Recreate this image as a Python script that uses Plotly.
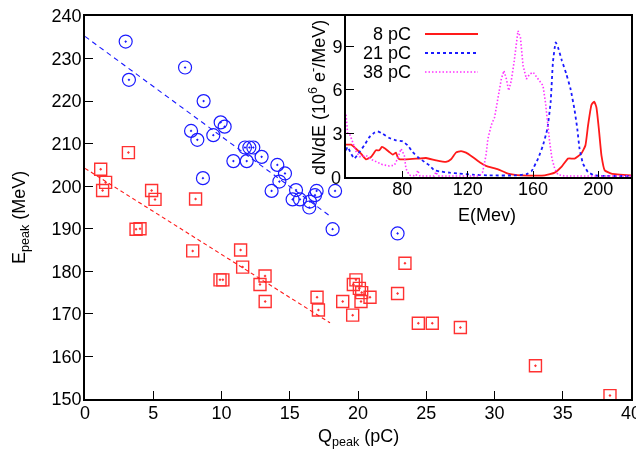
import plotly.graph_objects as go

# ---------------- main scatter data ----------------
blue_q = [2.98, 3.22, 7.33, 8.69, 7.77, 8.23, 9.4, 9.94, 10.23, 8.64, 10.87, 11.85,
          11.72, 12.04, 12.33, 12.94, 14.09, 14.65, 14.24, 13.67, 15.46, 15.21,
          15.75, 16.48, 16.43, 16.97, 16.85, 18.32, 18.14, 22.9]
blue_e = [234.0, 225.0, 227.9, 220.0, 213.0, 210.9, 212.0, 215.0, 214.0, 201.9, 205.9, 205.9,
          209.1, 209.1, 209.1, 206.9, 205.0, 203.0, 201.1, 198.9, 199.1, 196.9,
          196.9, 196.4, 195.0, 198.9, 197.9, 198.9, 189.9, 188.9]

red_q = [1.15, 1.51, 1.29, 3.18, 4.88, 5.13, 8.1, 3.74, 4.03, 7.89, 11.4, 11.55,
         9.89, 10.1, 13.19, 12.82, 13.2, 17.0, 17.1, 18.88, 23.44, 19.85, 19.66,
         20.1, 20.27, 20.88, 20.22, 19.61, 22.9, 24.42, 25.44, 27.5, 33.0, 38.46]
red_e = [204.0, 200.9, 199.0, 207.9, 199.0, 196.9, 197.0, 189.9, 190.0, 184.8, 185.0, 181.0,
         178.0, 178.0, 178.9, 176.9, 172.9, 173.9, 170.9, 172.9, 181.9, 178.0, 176.9,
         176.0, 175.0, 173.9, 172.9, 169.7, 174.8, 167.8, 167.8, 166.8, 157.8, 150.8]

fit_blue_q = [0.0, 17.95]
fit_blue_e = [235.2, 193.0]
fit_red_q = [0.0, 17.95]
fit_red_e = [204.2, 167.9]

# ---------------- inset spectra ----------------
spec8_e = [45.5, 48.6, 51.6, 54.7, 57.7, 60.8, 63.9, 65.9, 67.5, 69.6, 72, 74.1, 76.1, 77.1,
           78.2, 82.2, 88.4, 94.5, 100.6, 106.7, 109.8, 112.8, 115.9, 119, 123, 127.1,
           131.2, 138.6, 144.7, 152.9, 167.2, 173.3, 177.4, 181.4, 185.5, 189.6, 192.1,
           193.7, 195.8, 197.4, 198.8, 200.3, 201.9, 203.9, 208, 220]
spec8_v = [2.23, 2.23, 1.95, 1.61, 1.22, 1.38, 1.84, 1.84, 2.07, 1.95, 1.72, 1.54, 1.68, 1.38,
           1.22, 1.22, 1.26, 1.31, 1.15, 1.04, 1.22, 1.68, 1.79, 1.68, 1.38, 1.04,
           0.77, 0.53, 0.23, 0.11, 0.11, 0.30, 0.69, 1.27, 1.27, 1.62, 2.18,
           3.56, 4.98, 5.2, 4.81, 3.33, 1.49, 0.46, 0.23, 0.11]

spec21_e = [45.5, 46.5, 48.6, 50.6, 53.7, 56.7, 59.8, 62.8, 64.9, 67.9, 72, 76.1, 80.2, 83.3,
            86.3, 89.4, 93.5, 96.5, 99.6, 102.6, 108.8, 114.9, 123, 133.3, 150, 156, 159,
            163.1, 166.1, 168.8, 170.8, 172.2, 173.9, 175.3, 177.7, 180.4, 183.0, 185.5,
            187.1, 188.5, 190.6, 193.7, 197.7, 220]
spec21_v = [1.84, 2.07, 1.61, 1.27, 1.72, 2.18, 2.75, 3.05, 3.15, 2.98, 2.69, 2.53, 2.46, 2.18,
            1.72, 1.38, 1.04, 0.81, 0.46, 0.39, 0.30, 0.23, 0.16, 0.11, 0.11, 0.2, 0.39,
            1.27, 2.18, 3.33, 5.16, 7.91, 9.28, 8.94, 8.02, 7.1, 6.07, 4.58,
            3.33, 1.95, 0.92, 0.34, 0.11, 0.07]

spec38_e = [45.5, 46.5, 48.0, 49.6, 51.5, 53.7, 57.7, 60.8, 63.9, 67.9, 72, 75.1, 77.1, 79.2,
            81.2, 82.2, 84.3, 88.4, 89.4, 90.8, 99.5, 100.6, 101.8, 127.1, 129.2, 131.2,
            132.4, 134.4, 136.5, 138.6, 140.6, 142.2, 143.7, 145.1, 146.7, 148.4, 149.8,
            150.8, 152.3, 153.9, 156, 158, 160.1, 163.1, 166.1, 167.6, 168.8, 170.2, 171.6,
            173.3, 175.3, 179.4, 220]
spec38_v = [4.3, 3.0, 2.9, 2.4, 1.8, 1.4, 1.49, 1.22, 1.04, 0.85, 0.76, 0.81, 1.26, 1.95,
            1.49, 0.58, 0.12, 0.07, 0.46, 0.07, 0.07, 0.35, 0.07, 0.07, 0.35, 1.49,
            2.64, 3.56, 4.12, 5.62, 6.76, 7.33, 6.76, 5.96, 6.64, 7.91, 9.28,
            10.08, 9.62, 7.68, 6.76, 7.1, 7.22, 6.76, 6.3, 5.16, 3.79, 2.41, 1.27,
            0.58, 0.16, 0.07, 0.07]

inset_y_ticks = [0, 3, 6, 9]
legend_labels = ["8 pC", "21 pC", "38 pC"]

FONT = "Liberation Sans, Arial, Helvetica, sans-serif"
RED = "#ff1a1a"
BLUE = "#1a1aff"
MAG = "#ff33ff"

fig = go.Figure()

fig.add_trace(go.Scatter(x=fit_blue_q, y=fit_blue_e, mode="lines",
                         line=dict(color=BLUE, width=1.1, dash="5px,4px"),
                         xaxis="x", yaxis="y", showlegend=False))
fig.add_trace(go.Scatter(x=fit_red_q, y=fit_red_e, mode="lines",
                         line=dict(color=RED, width=1.1, dash="4px,3px"),
                         xaxis="x", yaxis="y", showlegend=False))
fig.add_trace(go.Scatter(x=blue_q, y=blue_e, mode="markers",
                         marker=dict(symbol="circle-open-dot", size=13, color=BLUE,
                                     line=dict(width=1.2, color=BLUE)),
                         xaxis="x", yaxis="y", showlegend=False))
fig.add_trace(go.Scatter(x=red_q, y=red_e, mode="markers",
                         marker=dict(symbol="square-open-dot", size=12, color=RED,
                                     line=dict(width=1.4, color=RED)),
                         opacity=0.9,
                         xaxis="x", yaxis="y", showlegend=False))

fig.add_trace(go.Scatter(x=spec8_e, y=spec8_v, mode="lines",
                         line=dict(color=RED, width=1.8, shape="spline", smoothing=0.4),
                         xaxis="x2", yaxis="y2", showlegend=False))
fig.add_trace(go.Scatter(x=spec21_e, y=spec21_v, mode="lines",
                         line=dict(color=BLUE, width=1.8, dash="3px,3px", shape="spline", smoothing=0.4),
                         xaxis="x2", yaxis="y2", showlegend=False))
fig.add_trace(go.Scatter(x=spec38_e, y=spec38_v, mode="lines",
                         line=dict(color=MAG, width=1.6, dash="1.5px,2px"),
                         xaxis="x2", yaxis="y2", showlegend=False))

axis_common = dict(showline=True, linecolor="black", linewidth=1.6, mirror=True,
                   ticks="inside", tickcolor="black", tickwidth=1.3,
                   showgrid=False, zeroline=False, automargin=False,
                   ticklabeloverflow="allow",
                   tickfont=dict(family=FONT, size=18, color="black"))

ix0 = (346 - 85) / 546.0
iy0 = (399 - 177) / 383.0

# the page body adds an 8px offset; the figure is sized so the plot frame
# lands at x 85..631, y 16..399 in the 644x452 window
fig.update_layout(
    template="none",
    width=636, height=444, autosize=False,
    margin=dict(l=77, r=13, t=8, b=53, pad=0),
    paper_bgcolor="white", plot_bgcolor="white",
    font=dict(family=FONT, size=18, color="black"),
    showlegend=False,
    xaxis=dict(range=[0, 40], tickvals=[0, 5, 10, 15, 20, 25, 30, 35, 40], ticklen=8,
               ticklabelstandoff=-3, domain=[0, 1], anchor="y", **axis_common),
    yaxis=dict(range=[150, 240], tickvals=[150, 160, 170, 180, 190, 200, 210, 220, 230, 240],
               ticklen=8, ticklabelstandoff=-2, domain=[0, 1], anchor="x", **axis_common),
    xaxis2=dict(range=[45.5, 220], tickvals=[80, 120, 160, 200], ticklen=6,
                ticklabelstandoff=-5, domain=[ix0, 1], anchor="y2", **axis_common),
    # the corner label "0" is added as an annotation below
    yaxis2=dict(range=[0, 11.1], tickvals=inset_y_ticks[1:], ticklen=8,
                ticklabelstandoff=-2, domain=[iy0, 1], anchor="x2", **axis_common),
)

def px(xp):
    return (xp - 85) / 546.0

def py(yp):
    return (399 - yp) / 383.0

annotations = [
    dict(text="Q<sub>peak</sub> (pC)", x=px(358), y=py(437), xref="paper", yref="paper",
         showarrow=False, xanchor="center", yanchor="middle", font=dict(size=18)),
    dict(text="E<sub>peak</sub> (MeV)", x=px(20), y=py(218), xref="paper", yref="paper",
         showarrow=False, xanchor="center", yanchor="middle", textangle=-90, font=dict(size=18)),
    dict(text="dN/dE (10<sup>6</sup> e<sup>-</sup>/MeV)", x=px(318), y=py(98), xref="paper", yref="paper",
         showarrow=False, xanchor="center", yanchor="middle", textangle=-90, font=dict(size=18)),
    dict(text="E(Mev)", x=px(487), y=py(215), xref="paper", yref="paper",
         showarrow=False, xanchor="center", yanchor="middle", font=dict(size=18)),
    dict(text=" " + str(inset_y_ticks[0]) + " ", x=px(347), y=py(178), xref="paper", yref="paper",
         showarrow=False, xanchor="right", yanchor="middle", borderpad=0,
         font=dict(family=FONT, size=18, color="black")),
]

rows = [34, 53, 72]
styles = [dict(color=RED, width=1.8), dict(color=BLUE, width=1.8, dash="3px,3px"),
          dict(color=MAG, width=1.6, dash="1.5px,2px")]
for lab, ry, st in zip(legend_labels, rows, styles):
    annotations.append(dict(text=lab, x=px(413), y=py(ry), xref="paper", yref="paper",
                            showarrow=False, xanchor="right", yanchor="middle", font=dict(size=18)))
    fig.add_shape(type="line", xref="paper", yref="paper", x0=px(425), x1=px(478),
                  y0=py(ry), y1=py(ry), line=st)

fig.update_layout(annotations=annotations)

fig.write_html("out.html")
